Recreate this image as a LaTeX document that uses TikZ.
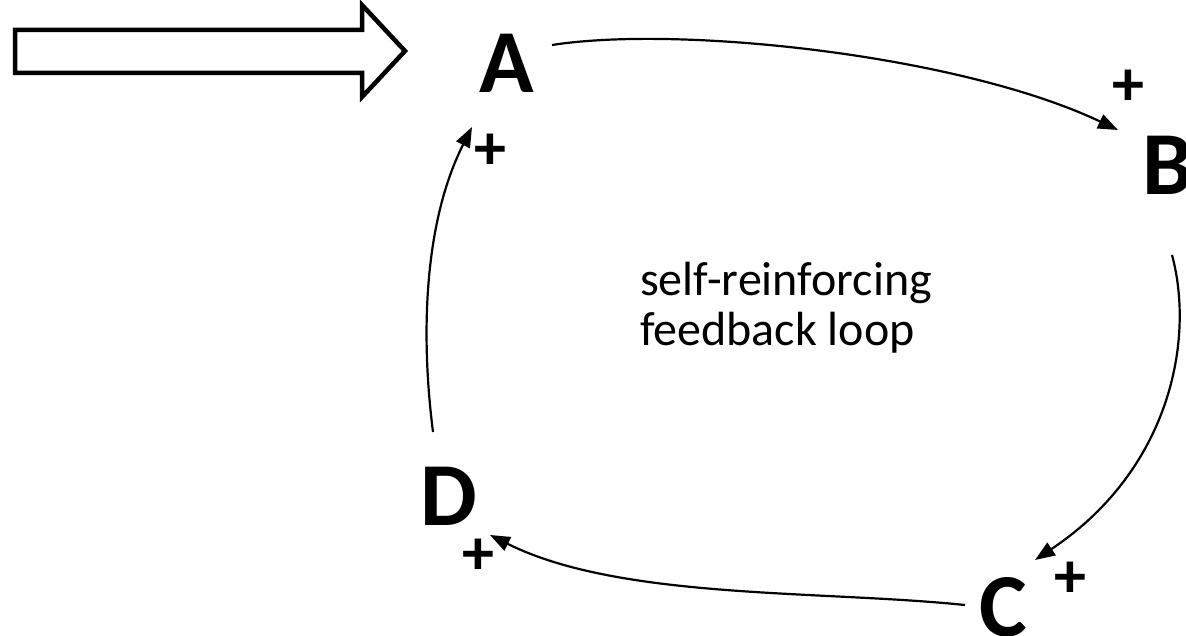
\documentclass[tikz,border=0pt]{standalone}
\usepackage{fontspec}
\setmainfont{Carlito}
\usetikzlibrary{arrows.meta}
\begin{document}
\begin{tikzpicture}[x=1pt,y=-1pt,
  letter/.style={font=\fontsize{90}{96}\selectfont\bfseries, inner sep=0pt, anchor=base},
  plus/.style={font=\fontsize{64}{66}\selectfont\bfseries, inner sep=0pt},
  link/.style={line width=2.2pt, -{Triangle[length=20pt,width=15pt]}},
  bigarrow/.style={line width=4.5pt, line join=miter, fill=white}]
\useasboundingbox (0,0) rectangle (1186,636);
% hollow input arrow
\draw[bigarrow] (15,30) -- (362,30) -- (362,5) -- (405,51) -- (362,97) -- (362,73) -- (15,73) -- cycle;
% variables
\node[letter] (A) at (507,93) {A};
\node[letter] (B) at (1168,195) {B};
\node[letter] (C) at (1003,636) {C};
\node[letter] (D) at (449,525) {D};
% polarity signs
\node[plus] (pA) at (490,152) {+};
\node[plus] (pB) at (1128,88) {+};
\node[plus] (pC) at (1070,580) {+};
\node[plus] (pD) at (478,557) {+};
% label
\node[font=\fontsize{48}{50}\selectfont, align=left, anchor=north west, inner sep=0pt] (lbl) at (640,262) {self-reinforcing\\feedback loop};
% connector end points
\coordinate (Aout) at (552,45);
\coordinate (Bin) at (1118,130);
\coordinate (Bout) at (1172,255);
\coordinate (Cin) at (1035,560);
\coordinate (Cout) at (965,605);
\coordinate (Din) at (490,535);
\coordinate (Dout) at (433,432);
\coordinate (Ain) at (472,127);
\draw[link] (Aout) .. controls (680,25) and (960,55) .. (Bin);
\draw[link] (Bout) .. controls (1195,340) and (1170,470) .. (Cin);
\draw[link] (Cout) .. controls (820,590) and (620,600) .. (Din);
\draw[link] (Dout) .. controls (420,330) and (425,220) .. (Ain);
\end{tikzpicture}
\end{document}
